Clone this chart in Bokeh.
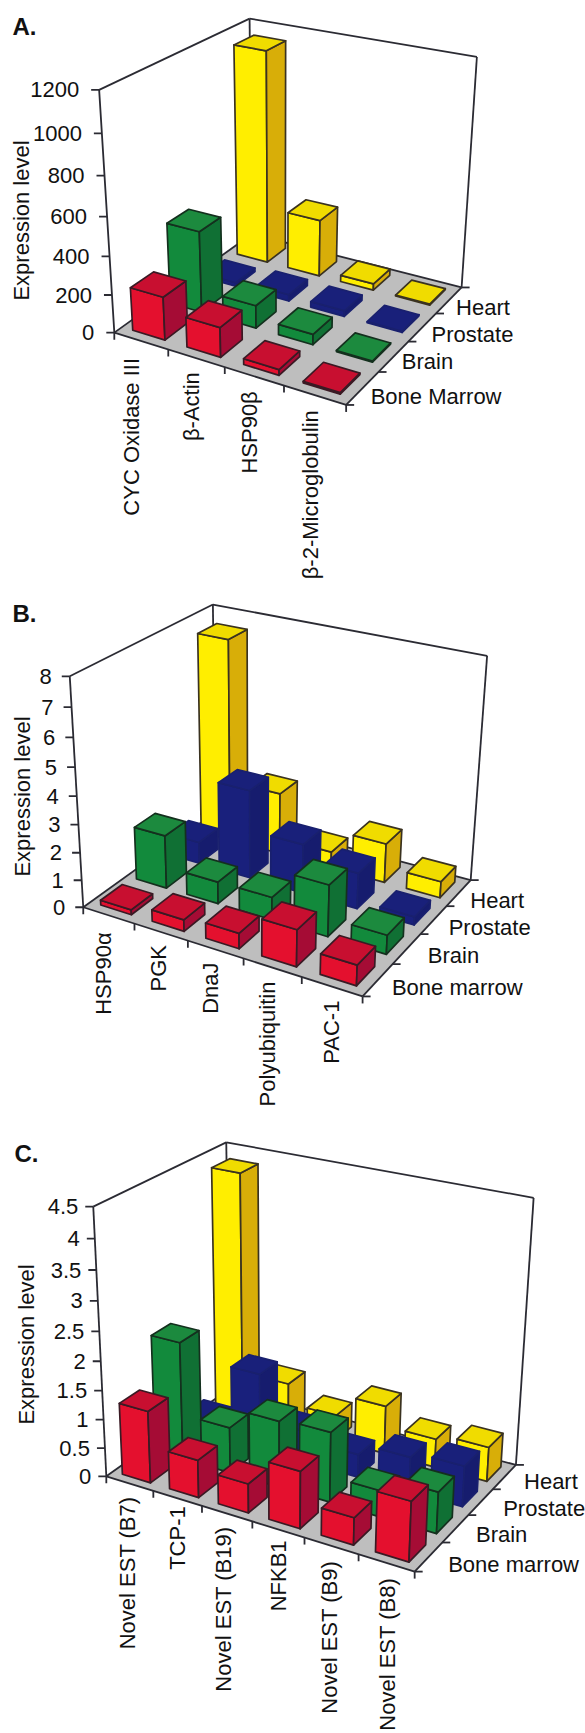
import numpy as np
from bokeh.plotting import figure
from bokeh.layouts import column
from bokeh.models import Range1d, ColumnDataSource
from bokeh.core.properties import value
from bokeh.embed import file_html
from bokeh.resources import INLINE

# ---------- data ----------
series_a = ["Bone Marrow", "Brain", "Prostate", "Heart"]
genes_a = ["CYC Oxidase III", "β-Actin", "HSP90β", "β-2-Microglobulin"]
ticks_a = [0, 200, 400, 600, 800, 1000, 1200]
tick_labels_a = ["0", "200", "400", "600", "800", "1000", "1200"]
bone_a = [226, 155, 30, 8]
brain_a = [430, 120, 55, 6]
prostate_a = [20, 35, 30, 6]
heart_a = [1140, 310, 35, 5]

series_b = ["Bone marrow", "Brain", "Prostate", "Heart"]
genes_b = ["HSP90α", "PGK", "DnaJ", "Polyubiquitin", "PAC-1"]
ticks_b = [0, 1, 2, 3, 4, 5, 6, 7, 8]
tick_labels_b = ["0", "1", "2", "3", "4", "5", "6", "7", "8"]
bone_b = [0.18, 0.42, 0.55, 1.3, 0.72]
brain_b = [1.95, 0.8, 0.82, 1.85, 0.68]
prostate_b = [0.8, 3.25, 1.8, 1.3, 0.3]
heart_b = [7.5, 2.3, 0.6, 1.45, 0.6]

series_c = ["Bone marrow", "Brain", "Prostate", "Heart"]
genes_c = ["Novel EST (B7)", "TCP-1", "Novel EST (B19)", "NFKB1", "Novel EST (B9)", "Novel EST (B8)"]
ticks_c = [0, 0.5, 1, 1.5, 2, 2.5, 3, 3.5, 4, 4.5]
tick_labels_c = ["0", "0.5", "1", "1.5", "2", "2.5", "3", "3.5", "4", "4.5"]
bone_c = [1.25, 0.65, 0.5, 0.97, 0.46, 1.0]
brain_c = [2.05, 0.8, 1.15, 1.2, 0.45, 0.7]
prostate_c = [0.3, 1.35, 0.55, 0.4, 0.6, 0.7]
heart_c = [4.3, 0.8, 0.45, 0.85, 0.5, 0.6]

# ---------- styles ----------
FONT = "Liberation Sans"
INK = "#2b2b33"
FRONT = ["#e4102e", "#128a3c", "#19207c", "#ffee00"]
SIDE = ["#a50c35", "#107034", "#161c6e", "#d8ae08"]
TOP = ["#c80f30", "#1c8a3e", "#19207a", "#f0dc00"]
EDGE = ["#3a1a24", "#14301e", "#19206e", "#3a3220"]

# camera: (x, y, z in unit cube) -> page pixel
CUBE = [(0, 0, 0), (1, 0, 0), (0, 1, 0), (1, 1, 0), (0, 0, 1), (0, 1, 1), (1, 1, 1)]


def camera(pix):
    rows = []
    for (x, y, z), (u, v) in zip(CUBE, pix):
        rows.append([x, y, z, 1, 0, 0, 0, 0, -u * x, -u * y, -u * z, -u])
        rows.append([0, 0, 0, 0, x, y, z, 1, -v * x, -v * y, -v * z, -v])
    return np.linalg.svd(np.array(rows, float))[2][-1].reshape(3, 4)


def project(P, x, y, z):
    h = P @ np.array([x, y, z, 1.0])
    return h[0] / h[2], h[1] / h[2]


panels = [
    dict(letter="A.", letter_xy=(12, 26), page=(0, 595),
         corners=[(115, 332), (345, 405), (250, 234), (462, 286), (98, 89), (250, 18), (476, 57)],
         genes=genes_a, series=series_a, vals=[bone_a, brain_a, prostate_a, heart_a],
         ticks=ticks_a, tick_labels=tick_labels_a, zmax=1200, title_xy=(21, 220), pad=(0.2, 0.2),
         series_off=[(8, 8), (8, 5), (9, 7.5), (7, 7)],
         gene_off=[(-9, 17), (-5, 14), (-5, 15), (-4, 15)], tick_gap=20),
    dict(letter="B.", letter_xy=(12, 613), page=(595, 1120),
         corners=[(84.1, 908.3), (361.7, 995), (213.6, 810), (470.8, 880.7), (68.2, 675), (213.6, 605), (486.3, 655)],
         genes=genes_b, series=series_b, vals=[bone_b, brain_b, prostate_b, heart_b],
         ticks=ticks_b, tick_labels=tick_labels_b, zmax=8, title_xy=(21.5, 796), pad=(0.2, 0.2),
         series_off=[(14, 8), (21, 7), (15, 8), (11.5, 8)],
         gene_off=[(-5, 17), (-2, 13), (-5, 13), (-5, 14), (0, 14)], tick_gap=18),
    dict(letter="C.", letter_xy=(14, 1153), page=(1120, 1733),
         corners=[(107.4, 1475), (413.5, 1572.3), (227.2, 1389.6), (516.5, 1462.7), (91.7, 1205.8), (227.2, 1141.5), (532.6, 1198)],
         genes=genes_c, series=series_c, vals=[bone_c, brain_c, prostate_c, heart_c],
         ticks=ticks_c, tick_labels=tick_labels_c, zmax=4.5, title_xy=(25.5, 1344), pad=(0.2, 0.2),
         series_off=[(19.5, 8), (20.5, 6), (22.5, 6), (19.5, 5)],
         gene_off=[(-2, 13), (0, 8), (-3, 13), (0, 11), (-2, 15), (1.5, 15)], tick_gap=15),
]


def draw(cfg):
    top, bottom = cfg["page"]
    p = figure(width=585, height=bottom - top, output_backend="svg", toolbar_location=None,
               x_range=Range1d(0, 585), y_range=Range1d(bottom, top),
               x_axis_type=None, y_axis_type=None, min_border=0, outline_line_color=None)
    p.grid.visible = False
    P = camera(cfg["corners"])
    n, m = len(cfg["genes"]), len(cfg["series"])
    pj = lambda x, y, z: project(P, x, y, z)
    fs = value("22px")

    def text(x, y, s, **kw):
        p.text(x=x, y=y, text=s, text_font=value(FONT), text_font_size=kw.pop("size", fs),
               text_color="#111111", **kw)

    # floor
    fl = [pj(0, 0, 0), pj(1, 0, 0), pj(1, 1, 0), pj(0, 1, 0)]
    p.patch([a for a, _ in fl], [b for _, b in fl], fill_color="#bebebe", line_color=None)

    # frame
    edges = [((0, 0, 0), (0, 0, 1)), ((0, 1, 0), (0, 1, 1)), ((1, 1, 0), (1, 1, 1)),
             ((0, 0, 1), (0, 1, 1)), ((0, 1, 1), (1, 1, 1)),
             ((0, 0, 0), (1, 0, 0)), ((1, 0, 0), (1, 1, 0)),
             ((0, 0, 0), (0, 1, 0)), ((0, 1, 0), (1, 1, 0))]
    xs, ys = [], []
    for a, b in edges:
        pa, pb = pj(*a), pj(*b)
        xs.append([pa[0], pb[0]]); ys.append([pa[1], pb[1]])
    # ticks
    for t in cfg["ticks"]:
        u, v = pj(0, 0, t / cfg["zmax"])
        xs.append([u, u - 8]); ys.append([v, v])
    for i in range(n + 1):
        u, v = pj(i / n, 0, 0)
        xs.append([u, u]); ys.append([v, v + 7])
    for j in range(m + 1):
        u, v = pj(1, j / m, 0)
        xs.append([u, u + 8]); ys.append([v, v])
    p.multi_line(xs, ys, line_color=INK, line_width=1.8)

    # bars, far to near
    px, py = cfg["pad"]
    fx, fy, fc, lc = [], [], [], []
    for j in range(m - 1, -1, -1):
        for i in range(n):
            h = cfg["vals"][j][i] / cfg["zmax"]
            x0, x1 = (i + px) / n, (i + 1 - px) / n
            y0, y1 = (j + py) / m, (j + 1 - py) / m
            faces = [
                ([(x0, y0, 0), (x1, y0, 0), (x1, y0, h), (x0, y0, h)], FRONT[j]),
                ([(x1, y0, 0), (x1, y1, 0), (x1, y1, h), (x1, y0, h)], SIDE[j]),
                ([(x0, y0, h), (x1, y0, h), (x1, y1, h), (x0, y1, h)], TOP[j]),
            ]
            for corners, col in faces:
                pts = [pj(*c) for c in corners]
                fx.append([a for a, _ in pts]); fy.append([b for _, b in pts])
                fc.append(col); lc.append(EDGE[j])
    p.patches("x", "y", source=ColumnDataSource(dict(x=fx, y=fy, fc=fc, lc=lc)),
              fill_color="fc", line_color="lc", line_width=1.7, line_join="round")

    # value labels
    for t, lab in zip(cfg["ticks"], cfg["tick_labels"]):
        u, v = pj(0, 0, t / cfg["zmax"])
        text([u - cfg["tick_gap"]], [v], [lab], text_align="right", text_baseline="middle")
    # gene labels
    for i, (g, (dx, dy)) in enumerate(zip(cfg["genes"], cfg["gene_off"])):
        u, v = pj((i + 0.5) / n, 0, 0)
        text([u + dx], [v + dy], [g], angle=np.pi / 2, text_align="right", text_baseline="middle")
    # series labels
    for j, (s, (dx, dy)) in enumerate(zip(cfg["series"], cfg["series_off"])):
        u, v = pj(1, (j + 0.5) / m, 0)
        text([u + dx], [v + dy], [s], text_align="left", text_baseline="middle")
    # axis title + panel letter
    text([cfg["title_xy"][0]], [cfg["title_xy"][1]], ["Expression level"], angle=np.pi / 2,
         text_align="center", text_baseline="middle")
    lx, ly = cfg["letter_xy"]
    text([lx], [ly], [cfg["letter"]], text_align="left", text_baseline="middle",
         text_font_style="bold", size=value("24px"))
    return p


page = column(*[draw(c) for c in panels], spacing=0)
open("out.html", "w").write(file_html(page, INLINE))
